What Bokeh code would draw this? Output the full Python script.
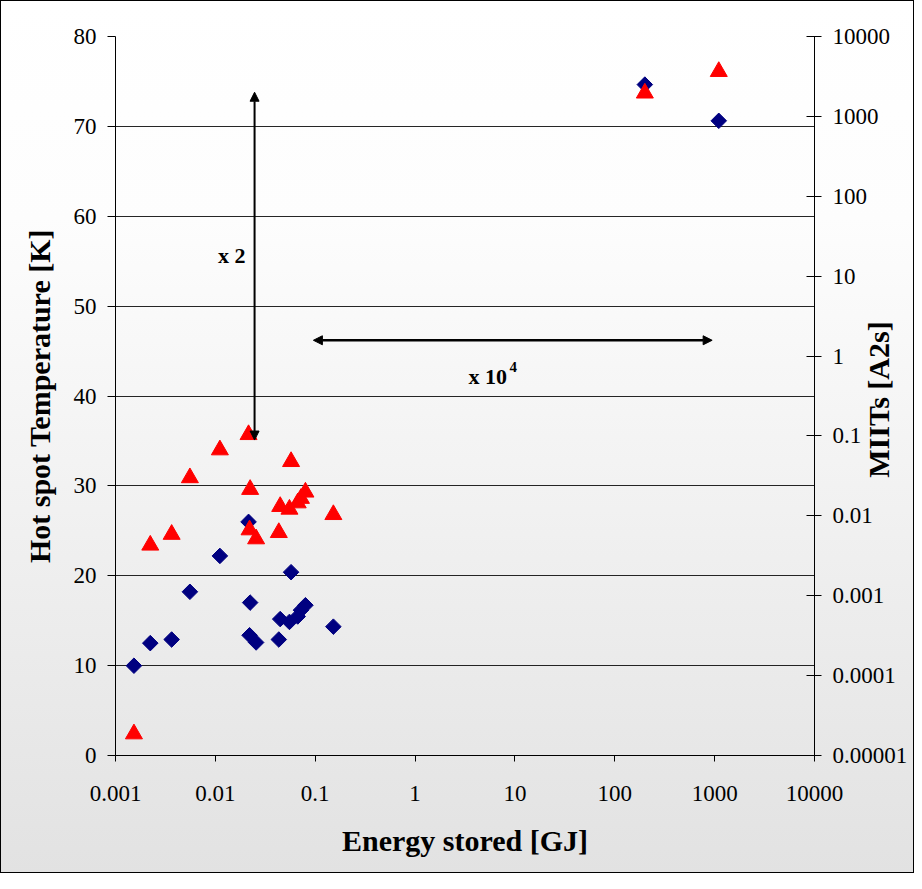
import math
from bokeh.plotting import figure
from bokeh.models import (Range1d, LogScale, LogAxis, LinearAxis, FixedTicker,
                          Arrow, NormalHead, Label, InlineStyleSheet)
from bokeh.embed import file_html
from bokeh.resources import INLINE

# ---------------- data ----------------
energy_gj = [0.00153, 0.00223, 0.00365, 0.00556, 0.0111, 0.0215, 0.0223,
             0.0220, 0.0256, 0.0573, 0.0432, 0.0446, 0.0552, 0.0668, 0.072,
             0.0798, 0.152, 200, 1100]
hot_spot_temp_k = [2.4, 23.4, 24.6, 30.9, 34.0, 35.7, 29.6, 25.1, 24.1, 32.7,
                   24.8, 27.7, 27.4, 28.1, 28.6, 29.3, 26.8, 73.7, 76.1]
miits_a2s = [1.33e-4, 2.55e-4, 2.83e-4, 1.12e-3, 3.15e-3, 8.4e-3, 8.2e-4,
             3.2e-4, 2.6e-4, 1.97e-3, 2.83e-4, 5.1e-4, 4.7e-4, 5.5e-4, 6.6e-4,
             7.6e-4, 4.1e-4, 2500, 880]

x_ticks = [0.001, 0.01, 0.1, 1, 10, 100, 1000, 10000]
x_tick_labels = ["0.001", "0.01", "0.1", "1", "10", "100", "1000", "10000"]
temp_ticks = [0, 10, 20, 30, 40, 50, 60, 70, 80]
miits_ticks = [1e-5, 1e-4, 1e-3, 0.01, 0.1, 1, 10, 100, 1000, 10000]
miits_tick_labels = ["0.00001", "0.0001", "0.001", "0.01", "0.1", "1", "10",
                     "100", "1000", "10000"]
miits_title = "MIITs [A2s]"
miits_title_start = 30.9   # where the rotated right title begins (left-axis units)

# annotations (data coordinates)
x2_arrow = dict(x=0.0247, y_from=35.1, y_to=73.8)
x1e4_arrow = dict(y=46.2, x_from=0.0959, x_to=944)

FONT = "Liberation Serif"
BLACK = "#000000"

p = figure(width=914, height=873, x_axis_type="log",
           x_range=Range1d(0.001, 10000), y_range=Range1d(0, 80),
           output_backend="svg", toolbar_location=None,
           min_border_left=115, min_border_right=99, min_border_top=36,
           min_border_bottom=118,
           background_fill_color=None, border_fill_color=None,
           outline_line_color=None)

p.stylesheets = [InlineStyleSheet(css=""":host {
  background: linear-gradient(180deg, #ffffff 0%, #fdfdfd 25%, #e2e2e2 100%);
  outline: 1px solid #000000; outline-offset: -1px; }""")]

p.extra_y_ranges = {"miits": Range1d(1e-5, 1e4)}
p.extra_y_scales = {"miits": LogScale()}


def style_axis(ax, tick_in, tick_out, standoff):
    ax.major_label_text_font = FONT
    ax.major_label_text_font_size = "23px"
    ax.major_label_text_color = BLACK
    ax.major_label_standoff = standoff
    ax.major_tick_in = tick_in
    ax.major_tick_out = tick_out
    ax.minor_tick_line_color = None
    ax.axis_line_color = BLACK
    ax.major_tick_line_color = BLACK
    ax.axis_label_text_font = FONT
    ax.axis_label_text_font_size = "30px"
    ax.axis_label_text_font_style = "bold"
    ax.axis_label_text_color = BLACK


# bottom axis
xa = p.xaxis[0]
xa.ticker = FixedTicker(ticks=x_ticks)
xa.major_label_overrides = dict(zip(x_ticks, x_tick_labels))
style_axis(xa, 0, 6, 24)
xa.axis_label = "Energy stored [GJ]"
xa.axis_label_standoff = 20

# left axis
ya = p.yaxis[0]
ya.ticker = FixedTicker(ticks=temp_ticks)
style_axis(ya, 0, 8, 11)
ya.axis_label = "Hot spot Temperature [K]"
ya.axis_label_standoff = 15

# right axis: ticks and tick labels
ra = LogAxis(y_range_name="miits", ticker=FixedTicker(ticks=miits_ticks))
ra.major_label_overrides = dict(zip(miits_ticks, miits_tick_labels))
style_axis(ra, 8, 7, 11)
p.add_layout(ra, "right")

# right axis title: read bottom-to-top, overlapping the tick-label column
rt = LinearAxis(ticker=FixedTicker(ticks=[miits_title_start]))
style_axis(rt, 0, 0, -32)
rt.major_label_overrides = {miits_title_start: miits_title}
rt.major_label_orientation = math.pi / 2
rt.major_label_text_font_size = "30px"
rt.major_label_text_font_style = "bold"
rt.axis_line_color = None
rt.major_tick_line_color = None
p.add_layout(rt, "right")

# grid
p.xgrid.visible = False
p.ygrid.ticker = FixedTicker(ticks=temp_ticks)
p.ygrid.grid_line_color = BLACK
p.ygrid.grid_line_alpha = 0.85
p.ygrid.grid_line_width = 1

# data
p.scatter(energy_gj, miits_a2s, marker="square", angle=45, angle_units="deg",
          size=11, fill_color="#000080", line_color="#000080",
          y_range_name="miits")
p.scatter(energy_gj, hot_spot_temp_k, marker="triangle", size=17,
          fill_color="#ff0000", line_color="#ff0000")


# arrows
def head():
    return NormalHead(size=9, fill_color=BLACK, line_color=BLACK)


p.add_layout(Arrow(x_start=x2_arrow["x"], y_start=x2_arrow["y_from"],
                   x_end=x2_arrow["x"], y_end=x2_arrow["y_to"],
                   start=head(), end=head(), line_width=2,
                   line_color=BLACK))
p.add_layout(Arrow(x_start=x1e4_arrow["x_from"], y_start=x1e4_arrow["y"],
                   x_end=x1e4_arrow["x_to"], y_end=x1e4_arrow["y"],
                   start=head(), end=head(), line_width=2.5,
                   line_color=BLACK))

# text annotations
p.add_layout(Label(x=0.01462, y=55.6, text="x 2", text_font=FONT,
                   text_font_size="22px", text_font_style="bold",
                   text_color=BLACK,
                   text_align="center", text_baseline="middle"))
p.add_layout(Label(x=3.43, y=42.2, text="x 10", text_font=FONT,
                   text_font_size="22px", text_font_style="bold",
                   text_color=BLACK,
                   text_align="left", text_baseline="alphabetic"))
p.add_layout(Label(x=3.43, y=42.2, x_offset=41, y_offset=9, text="4",
                   text_font=FONT, text_font_size="15px",
                   text_font_style="bold", text_color=BLACK,
                   text_align="left", text_baseline="alphabetic"))

open("out.html", "w").write(file_html(p, INLINE))
